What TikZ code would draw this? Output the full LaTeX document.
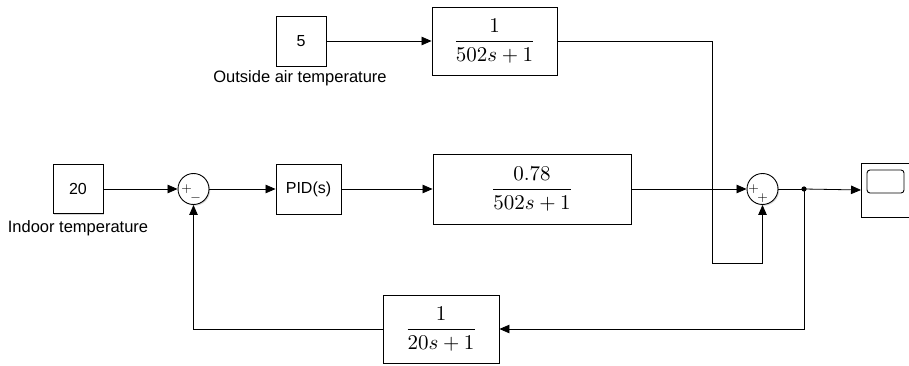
\documentclass[tikz,border=0pt]{standalone}
\usepackage{graphicx}
\usepackage{fontspec}
\newfontfamily\lblfont{Liberation Sans}
\usetikzlibrary{arrows.meta,shadows}

\newcommand{\tfrac}[2]{\scalebox{2.1}{$\displaystyle\frac{#1}{#2}$}}
\newcommand{\sgnmark}[1]{\scalebox{1.35}{$#1$}}

\tikzset{
  blk/.style={draw,line width=0.9pt,fill=white,inner sep=0pt,
    drop shadow={shadow xshift=1.2pt,shadow yshift=-1.2pt,opacity=0.25,fill=black!60}},
  sumblk/.style={blk,circle,minimum size=31pt},
  lbl/.style={font=\lblfont\fontsize{16.5}{19}\selectfont,inner sep=0pt},
  sgn/.style={inner sep=0pt},
  sig/.style={line width=0.8pt,-{Triangle[length=10pt,width=8.5pt]}},
  wire/.style={line width=0.8pt}
}

\begin{document}
\begin{tikzpicture}[x=1pt,y=1pt,yscale=-1,xscale=1]
\useasboundingbox (0,0) rectangle (909,366);
%Shape: Rectangle [constant 20]
\node [blk,minimum width=50pt,minimum height=49pt,font=\lblfont\fontsize{16}{18}\selectfont] (ref) at (78,189) {20};
% Text Node
\node [lbl,anchor=north] (reflbl) at (78,220) {Indoor temperature};
%Shape: Circle [sum 1]
\node [sumblk] (sumA) at (193.5,189) {};
\node [sgn] (sumAp) at (186.5,189.5) {\sgnmark{+}};
\node [sgn] (sumAm) at (195.5,198.5) {\sgnmark{-}};
%Shape: Rectangle [PID]
\node [blk,minimum width=65pt,minimum height=50pt,font=\lblfont\fontsize{16}{18}\selectfont] (pid) at (308.5,189) {PID(s)};
%Shape: Rectangle [plant]
\node [blk,minimum width=198pt,minimum height=70pt] (plant) at (532,189) {\tfrac{0.78}{502s+1}};
%Shape: Rectangle [constant 5]
\node [blk,minimum width=50pt,minimum height=50pt,font=\lblfont\fontsize{16}{18}\selectfont] (outs) at (301,41) {5};
% Text Node
\node [lbl,anchor=north] (outslbl) at (300,70) {Outside air temperature};
%Shape: Rectangle [disturbance]
\node [blk,minimum width=125pt,minimum height=68pt] (dist) at (494.5,41) {\tfrac{1}{502s+1}};
%Shape: Circle [sum 2]
\node [sumblk] (sumB) at (762.5,189) {};
\node [sgn] (sumBp) at (753.5,189.5) {\sgnmark{+}};
\node [sgn] (sumBq) at (762.5,198.5) {\sgnmark{+}};
%Shape: Rectangle [scope]
\node [blk,anchor=west,minimum width=60pt,minimum height=54pt] (scope) at (861,190) {};
\draw [line width=0.9pt,rounded corners=3pt] (867,170) rectangle (904,193);
%Shape: Rectangle [feedback]
\node [blk,minimum width=116pt,minimum height=68pt] (fb) at (441,329) {\tfrac{1}{20s+1}};
% branch point and corner
\coordinate (tap) at (804,189);
\coordinate (loop) at (712,263);
\fill (tap) circle (2.6pt);
%Straight Lines
\draw [sig] (ref.east) -- (sumA.west);
\draw [sig] (sumA.east) -- (pid.west);
\draw [sig] (pid.east) -- (plant.west);
\draw [sig] (plant.east) -- (sumB.west);
\draw [sig] (outs.east) -- (dist.west);
\draw [sig] (dist.east) -| (loop) -| (sumB.south);
\draw [wire] (sumB.east) -- (tap);
\draw [sig] (tap) -- (scope.west);
\draw [sig] (tap) |- (fb.east);
\draw [sig] (fb.west) -| (sumA.south);
\end{tikzpicture}
\end{document}
